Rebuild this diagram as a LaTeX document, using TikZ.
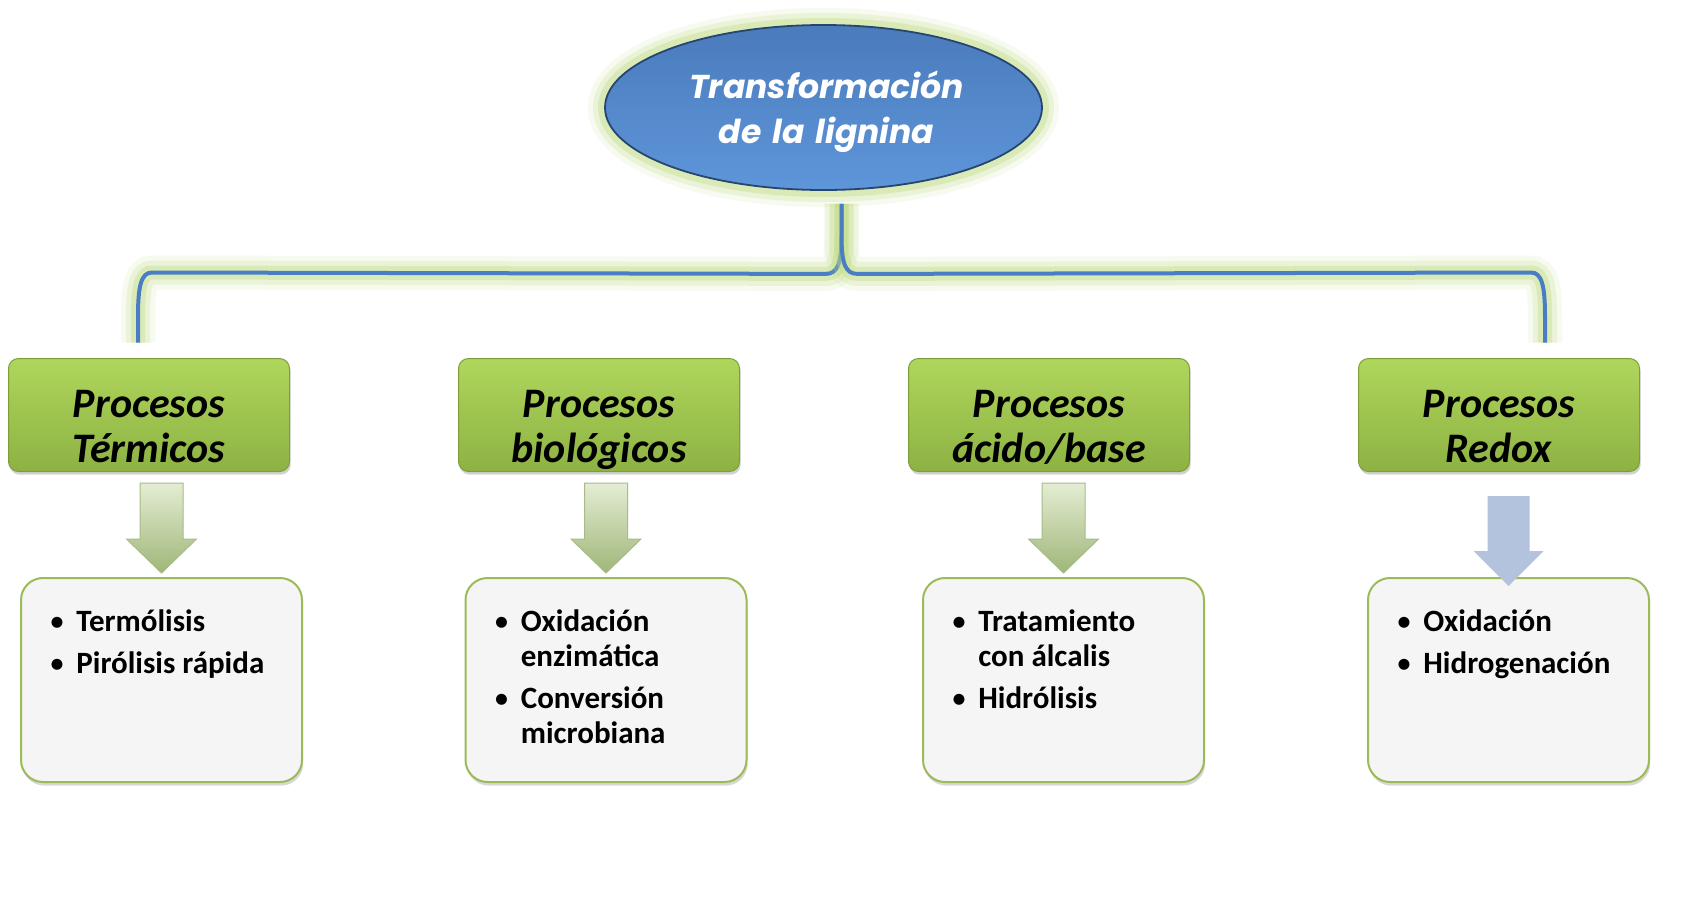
\documentclass[tikz,border=0pt]{standalone}
\usepackage{fontspec}
\setmainfont{Carlito}
\newfontfamily\ttlfont{Poppins}
\usetikzlibrary{shapes.geometric,shadows,calc}

\definecolor{glowc}{HTML}{BCDA7C}
\definecolor{rootline}{HTML}{27466F}
\definecolor{roottop}{HTML}{4A7BBB}
\definecolor{rootbot}{HTML}{5E96DA}
\definecolor{bracec}{HTML}{4A7DC4}
\definecolor{cattop}{HTML}{AFD65C}
\definecolor{catbot}{HTML}{8DB243}
\definecolor{catline}{HTML}{7E9E3C}
\definecolor{detfill}{HTML}{F5F5F5}
\definecolor{detline}{HTML}{9BBB59}
\definecolor{arrtop}{HTML}{E4EDD3}
\definecolor{arrbot}{HTML}{9FB679}
\definecolor{arrline}{HTML}{A7BC86}
\definecolor{redoxc}{HTML}{B3C3DD}

% bullet column
\newcommand{\bul}{\makebox[13.5pt][l]{\textmd{\textbullet}}}

\begin{document}
\begin{tikzpicture}[x=0.5pt,y=-0.5pt, every node/.style={inner sep=0pt},
  glowline/.style={preaction={draw=glowc, line width=17pt, draw opacity=0.12},
    preaction={draw=glowc, line width=12pt, draw opacity=0.2},
    preaction={draw=glowc, line width=7pt, draw opacity=0.35}},
  rootshape/.style={ellipse, glowline, draw=rootline, line width=0.9pt, top color=roottop, bottom color=rootbot,
    minimum width=218.5pt, minimum height=82.5pt},
  roottext/.style={text width=160pt, align=center, anchor=base, text=white,
    font=\ttlfont\bfseries\itshape\fontsize{16.5}{22.5}\selectfont},
  brace/.style={glowline, draw=bracec, line width=2pt, line join=round},
  catbox/.style={draw=catline, line width=0.5pt, rounded corners=5pt, top color=cattop, bottom color=catbot,
    minimum width=140.5pt, minimum height=56.5pt,
    drop shadow={shadow xshift=0.6pt, shadow yshift=-1.6pt, opacity=0.35}},
  cattext/.style={text width=140pt, align=center, anchor=base, font=\fontsize{21}{22.5}\selectfont\bfseries\itshape},
  detbox/.style={draw=detline, line width=1pt, rounded corners=11pt, fill=detfill,
    minimum width=140.5pt, minimum height=102pt,
    drop shadow={shadow xshift=0.6pt, shadow yshift=-1.8pt, opacity=0.3}},
  dettext/.style={anchor=base west, font=\fontsize{15.5}{17.5}\selectfont\bfseries},
  grarrow/.style={draw=arrline, line width=0.5pt, top color=arrtop, bottom color=arrbot},
  bluearrow/.style={fill=redoxc},
]
\fill[white] (0,0) rectangle (1698,901);
\useasboundingbox (0,0) rectangle (1698,901);

% top ellipse
\node[rootshape] (root) at (823.5,107.5) {};
\node[roottext] (roott) at ($(root.center)+(3,-9.5)$) {Transformación\\de la lignina};

% process boxes
\node[catbox] (cat1) at (149,415) {};
\node[catbox] (cat2) at (599,415) {};
\node[catbox] (cat3) at (1049,415) {};
\node[catbox] (cat4) at (1499,415) {};
\node[cattext] (cat1t) at ($(cat1.north)+(0,59.5)$) {Procesos\\Térmicos};
\node[cattext] (cat2t) at ($(cat2.north)+(0,59.5)$) {Procesos\\biológicos};
\node[cattext] (cat3t) at ($(cat3.north)+(0,59.5)$) {Procesos\\ácido/base};
\node[cattext] (cat4t) at ($(cat4.north)+(0,59.5)$) {Procesos\\Redox};

% brace
\coordinate (bt) at ([xshift=9pt,yshift=-6.5pt]root.south);
\coordinate (bl) at ([xshift=-5.5pt,yshift=7.75pt]cat1.north);
\coordinate (br) at ([xshift=23pt,yshift=7.75pt]cat4.north);
\draw[brace] (bt) -- ($(bt)+(0,32)$) .. controls ($(bt)+(0,60)$) and ($(bt)+(-4,70)$) .. ($(bt)+(-16,70)$)
  -- ($(bl)+(14,-70)$) .. controls ($(bl)+(3,-70)$) and ($(bl)+(0,-56)$) .. ($(bl)+(0,-26)$) -- (bl);
\draw[brace] (bt) -- ($(bt)+(0,32)$) .. controls ($(bt)+(0,60)$) and ($(bt)+(4,70)$) .. ($(bt)+(16,70)$)
  -- ($(br)+(-14,-70)$) .. controls ($(br)+(-3,-70)$) and ($(br)+(0,-56)$) .. ($(br)+(0,-26)$) -- (br);

% detail boxes
\node[detbox] (det1) at (161.5,680) {};
\node[detbox] (det2) at (606,680) {};
\node[detbox] (det3) at (1063.5,680) {};
\node[detbox] (det4) at (1508.5,680) {};
\node[dettext] (det1t) at ($(det1.north west)+(29,54)$) {\begin{tabular}[t]{@{}l@{}}
  \bul Termólisis\\[3.5pt] \bul Pirólisis rápida\end{tabular}};
\node[dettext] (det2t) at ($(det2.north west)+(29,54)$) {\begin{tabular}[t]{@{}l@{}}
  \bul Oxidación\\ \hspace{13.5pt}enzimática\\[3.5pt] \bul Conversión\\ \hspace{13.5pt}microbiana\end{tabular}};
\node[dettext] (det3t) at ($(det3.north west)+(29,54)$) {\begin{tabular}[t]{@{}l@{}}
  \bul Tratamiento\\ \hspace{13.5pt}con álcalis\\[3.5pt] \bul Hidrólisis\end{tabular}};
\node[dettext] (det4t) at ($(det4.north west)+(29,54)$) {\begin{tabular}[t]{@{}l@{}}
  \bul Oxidación\\[3.5pt] \bul Hidrogenación\end{tabular}};

% block arrows
\foreach \i in {1,2,3} {
  \coordinate (arr\i) at ([yshift=-5.5pt]cat\i.south -| det\i.north);
  \path[grarrow] (arr\i) ++(-21.5,0) -- ++(43,0) -- ++(0,56) -- ++(13.5,0) -- ++(-35,34) -- ++(-35,-34) -- ++(13.5,0) -- cycle;
}
\coordinate (arr4) at ([yshift=-12pt]cat4.south -| det4.north);
\path[bluearrow] (arr4) ++(-21,0) -- ++(42,0) -- ++(0,55) -- ++(14,0) -- ++(-35,35) -- ++(-35,-35) -- ++(14,0) -- cycle;
\end{tikzpicture}
\end{document}
